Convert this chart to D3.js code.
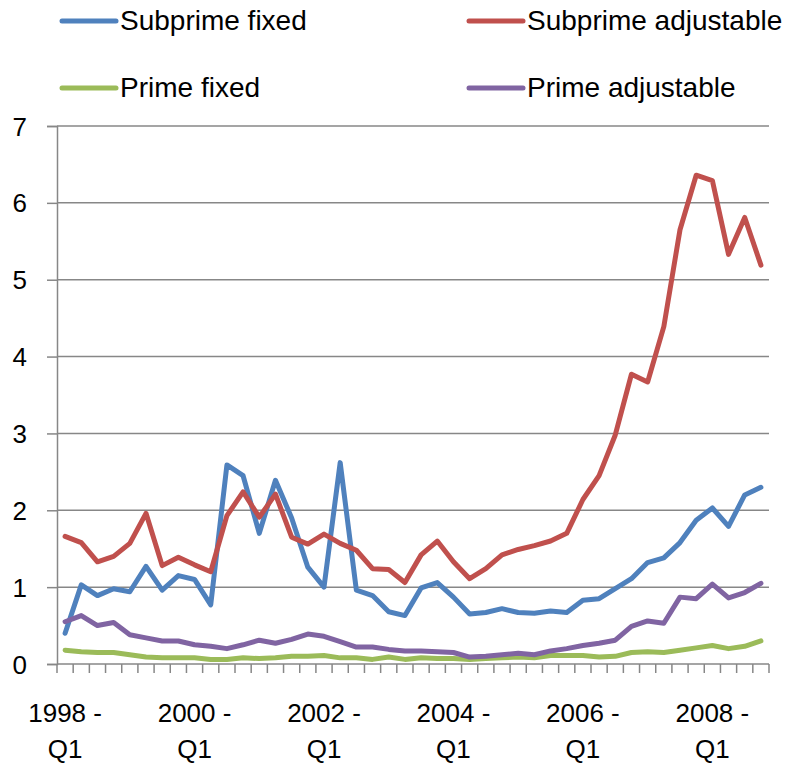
<!DOCTYPE html>
<html>
<head>
<meta charset="utf-8">
<script src="https://cdn.jsdelivr.net/npm/d3@7"></script>
<style>
  body { margin: 0; background: #fff; }
  svg text { font-family: "Liberation Sans", Arial, sans-serif; fill: #000; }
</style>
</head>
<body>
<svg id="chart"></svg>
<script>
// quarterly rates, 1998 Q1 - 2008 Q4

var years = [1998, 1999, 2000, 2001, 2002, 2003, 2004, 2005, 2006, 2007, 2008];
var quarters = ["Q1", "Q2", "Q3", "Q4"];
var yTicks = [0, 1, 2, 3, 4, 5, 6, 7];

var subprimeFixed = [0.40, 1.03, 0.89, 0.98, 0.94, 1.27, 0.96, 1.15, 1.10, 0.77, 2.59, 2.45, 1.70, 2.39, 1.90, 1.26, 1.00, 2.62, 0.96, 0.89, 0.68, 0.63, 0.99, 1.06, 0.87, 0.65, 0.67, 0.72, 0.67, 0.66, 0.69, 0.67, 0.83, 0.85, 0.98, 1.11, 1.32, 1.38, 1.58, 1.87, 2.03, 1.79, 2.20, 2.30];
var subprimeAdj = [1.66, 1.58, 1.33, 1.40, 1.57, 1.96, 1.28, 1.39, 1.29, 1.20, 1.93, 2.24, 1.91, 2.21, 1.65, 1.56, 1.69, 1.57, 1.48, 1.24, 1.23, 1.06, 1.42, 1.60, 1.33, 1.11, 1.24, 1.42, 1.49, 1.54, 1.60, 1.70, 2.14, 2.45, 2.98, 3.77, 3.67, 4.39, 5.65, 6.36, 6.29, 5.33, 5.81, 5.19];
var primeFixed = [0.18, 0.16, 0.15, 0.15, 0.12, 0.09, 0.08, 0.08, 0.08, 0.06, 0.06, 0.08, 0.07, 0.08, 0.10, 0.10, 0.11, 0.08, 0.08, 0.06, 0.09, 0.06, 0.08, 0.07, 0.07, 0.06, 0.07, 0.08, 0.09, 0.08, 0.11, 0.11, 0.11, 0.09, 0.10, 0.15, 0.16, 0.15, 0.18, 0.21, 0.24, 0.20, 0.23, 0.30];
var primeAdj = [0.55, 0.63, 0.50, 0.54, 0.38, 0.34, 0.30, 0.30, 0.25, 0.23, 0.20, 0.25, 0.31, 0.27, 0.32, 0.39, 0.36, 0.29, 0.22, 0.22, 0.19, 0.17, 0.17, 0.16, 0.15, 0.09, 0.10, 0.12, 0.14, 0.12, 0.17, 0.20, 0.24, 0.27, 0.31, 0.49, 0.56, 0.53, 0.87, 0.85, 1.04, 0.86, 0.93, 1.05];

var seriesNames = ["Subprime fixed", "Subprime adjustable", "Prime fixed", "Prime adjustable"];
var seriesColors = ["#4F81BD", "#C0504D", "#9BBB59", "#8064A2"];
var seriesValues = [subprimeFixed, subprimeAdj, primeFixed, primeAdj];

// category labels "1998 - Q1" ...
var categories = [];
years.forEach(function(y) {
    quarters.forEach(function(q) { categories.push(y + " - " + q); });
});

var width = 798;
var height = 766;
var margin = { top: 126, right: 29, bottom: 102, left: 57 };

var svg = d3.select("#chart")
    .attr("width", width)
    .attr("height", height);

// SCALES
var x = d3.scaleBand()
    .domain(categories)
    .range([margin.left, width - margin.right])
    .padding(0);

var y = d3.scaleLinear()
    .domain([0, 7])
    .range([height - margin.bottom, margin.top]);

var gridColor = "#878787";

// GRID + Y AXIS
var yAxis = svg.append("g")
    .attr("transform", "translate(" + margin.left + ",0)")
    .call(d3.axisLeft(y)
        .tickValues(yTicks)
        .tickSize(10)
        .tickPadding(20)
        .tickFormat(d3.format("d")));
yAxis.select(".domain").attr("stroke", gridColor).attr("stroke-width", 1.5);
yAxis.selectAll(".tick line").attr("stroke", gridColor).attr("stroke-width", 1.5);
yAxis.selectAll(".tick text")
    .style("font-size", "26px")
    .attr("dy", "0.35em");

svg.append("g").selectAll("line")
    .data(yTicks.filter(function(d) { return d > 0; }))
    .enter()
    .append("line")
    .attr("x1", margin.left)
    .attr("x2", width - margin.right)
    .attr("y1", function(d) { return y(d); })
    .attr("y2", function(d) { return y(d); })
    .attr("stroke", gridColor)
    .attr("stroke-width", 1.5);

// X AXIS: ticks on category boundaries
var xBase = y(0);
var boundaries = categories.map(function(c) { return x(c); }).concat([x.range()[1]]);

svg.append("line")
    .attr("x1", margin.left)
    .attr("x2", width - margin.right)
    .attr("y1", xBase)
    .attr("y2", xBase)
    .attr("stroke", gridColor)
    .attr("stroke-width", 1.5);

svg.append("g").selectAll("line")
    .data(boundaries)
    .enter()
    .append("line")
    .attr("x1", function(d) { return d; })
    .attr("x2", function(d) { return d; })
    .attr("y1", xBase)
    .attr("y2", xBase + 9)
    .attr("stroke", gridColor)
    .attr("stroke-width", 1.5);

// labels every 8 quarters, wrapped in two lines
var labelCats = categories.filter(function(c, i) { return i % 8 === 0; });
var xLabels = svg.append("g").selectAll("text")
    .data(labelCats)
    .enter()
    .append("text")
    .attr("text-anchor", "middle")
    .style("font-size", "26px");
xLabels.append("tspan")
    .attr("x", function(d) { return x(d) + x.bandwidth() / 2; })
    .attr("y", 722)
    .text(function(d) { return d.split(" - ")[0] + " -"; });
xLabels.append("tspan")
    .attr("x", function(d) { return x(d) + x.bandwidth() / 2; })
    .attr("y", 758)
    .text(function(d) { return d.split(" - ")[1]; });

// LINES
var line = d3.line()
    .x(function(d, i) { return x(categories[i]) + x.bandwidth() / 2; })
    .y(function(d) { return y(d); });

// draw in legend order
svg.append("g").selectAll("path")
    .data(seriesValues)
    .enter()
    .append("path")
    .attr("d", line)
    .attr("fill", "none")
    .attr("stroke", function(d, i) { return seriesColors[i]; })
    .attr("stroke-width", 5)
    .attr("stroke-linejoin", "round")
    .attr("stroke-linecap", "round");

// LEGEND
var legendPos = [
    { x: 62, y: 21 },
    { x: 469, y: 21 },
    { x: 62, y: 88 },
    { x: 469, y: 88 }
];

var legend = svg.append("g").selectAll("g")
    .data(seriesNames)
    .enter()
    .append("g")
    .attr("transform", function(d, i) { return "translate(" + legendPos[i].x + "," + legendPos[i].y + ")"; });

legend.append("line")
    .attr("x1", 0)
    .attr("x2", 54)
    .attr("stroke", function(d, i) { return seriesColors[i]; })
    .attr("stroke-width", 5)
    .attr("stroke-linecap", "round");

legend.append("text")
    .attr("x", 58)
    .attr("y", 9)
    .style("font-size", "28px")
    .text(function(d) { return d; });
</script>
</body>
</html>
